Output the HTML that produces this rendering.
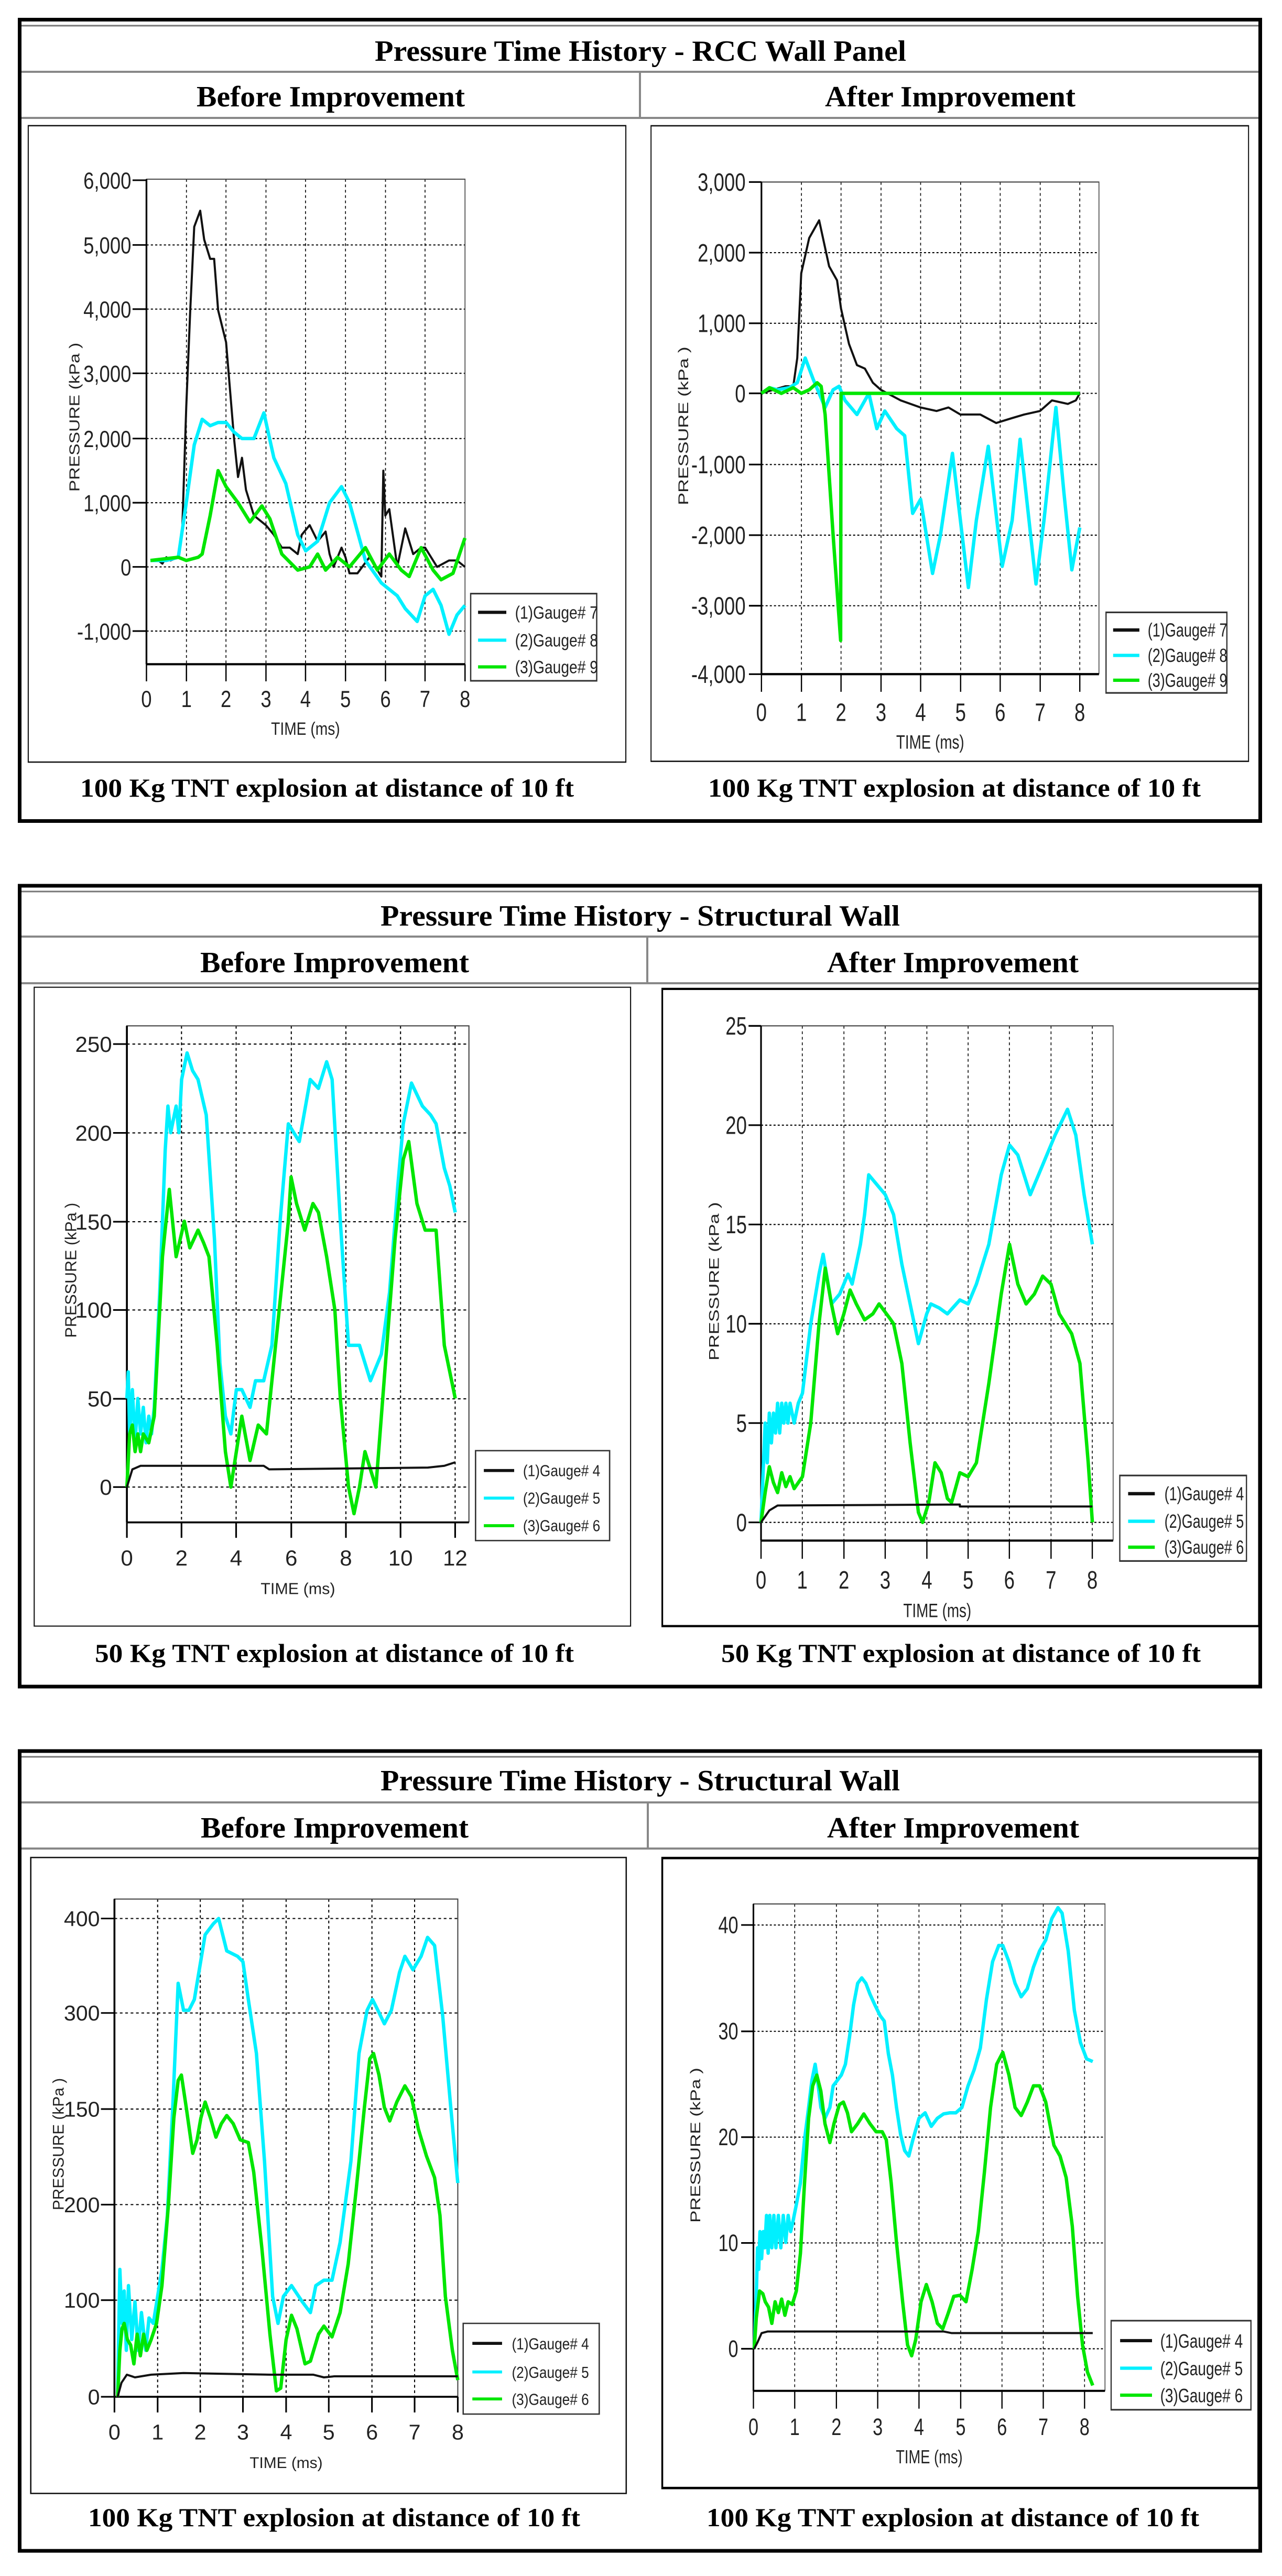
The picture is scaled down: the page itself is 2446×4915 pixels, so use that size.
<!DOCTYPE html>
<html><head><meta charset="utf-8"><style>
html,body{margin:0;padding:0;background:#fff;}
svg{display:block}
.t{font-family:"Liberation Serif",serif;font-weight:bold;fill:#000}
.a{font-family:"Liberation Sans",sans-serif;fill:#222}
.g{stroke:#000;stroke-width:2;stroke-dasharray:5 5;fill:none}
.k{fill:none;stroke:#111;stroke-width:4;vector-effect:non-scaling-stroke;stroke-linejoin:round}
.c{fill:none;stroke:#00F0FF;stroke-width:6.5;vector-effect:non-scaling-stroke;stroke-linejoin:round}
.n{fill:none;stroke:#00E600;stroke-width:6.5;vector-effect:non-scaling-stroke;stroke-linejoin:round}
</style></head><body>
<svg width="2446" height="4915" viewBox="0 0 2446 4915" xmlns="http://www.w3.org/2000/svg">
<rect width="2446" height="4915" fill="#fff"/>

<g fill="none">
<rect x="37.5" y="37.5" width="2367" height="1529" stroke="#000" stroke-width="7"/>
<line x1="41" y1="49" x2="2401" y2="49" stroke="#777" stroke-width="3"/>
<line x1="41" y1="137" x2="2401" y2="137" stroke="#888" stroke-width="4"/>
<line x1="41" y1="225" x2="2401" y2="225" stroke="#888" stroke-width="4"/>
<line x1="1221" y1="137" x2="1221" y2="225" stroke="#888" stroke-width="4"/>

<rect x="37.5" y="1690" width="2367" height="1528" stroke="#000" stroke-width="7"/>
<line x1="41" y1="1701" x2="2401" y2="1701" stroke="#777" stroke-width="3"/>
<line x1="41" y1="1787" x2="2401" y2="1787" stroke="#888" stroke-width="4"/>
<line x1="41" y1="1876" x2="2401" y2="1876" stroke="#888" stroke-width="4"/>
<line x1="1235" y1="1787" x2="1235" y2="1876" stroke="#888" stroke-width="4"/>

<rect x="37.5" y="3341" width="2367" height="1526" stroke="#000" stroke-width="7"/>
<line x1="41" y1="3352" x2="2401" y2="3352" stroke="#777" stroke-width="3"/>
<line x1="41" y1="3439" x2="2401" y2="3439" stroke="#888" stroke-width="4"/>
<line x1="41" y1="3527" x2="2401" y2="3527" stroke="#888" stroke-width="4"/>
<line x1="1236" y1="3439" x2="1236" y2="3527" stroke="#888" stroke-width="4"/>
</g>

<g class="t">
<text x="715" y="116" font-size="56" textLength="1014" lengthAdjust="spacingAndGlyphs">Pressure Time History - RCC Wall Panel</text>
<text x="375" y="203" font-size="56" textLength="512" lengthAdjust="spacingAndGlyphs">Before Improvement</text>
<text x="1574" y="203" font-size="56" textLength="478" lengthAdjust="spacingAndGlyphs">After Improvement</text>
<text x="153" y="1520" font-size="50" textLength="942" lengthAdjust="spacingAndGlyphs">100 Kg TNT explosion at distance of 10 ft</text>
<text x="1351" y="1520" font-size="50" textLength="940" lengthAdjust="spacingAndGlyphs">100 Kg TNT explosion at distance of 10 ft</text>

<text x="726" y="1766" font-size="56" textLength="991" lengthAdjust="spacingAndGlyphs">Pressure Time History - Structural Wall</text>
<text x="382" y="1855" font-size="56" textLength="513" lengthAdjust="spacingAndGlyphs">Before Improvement</text>
<text x="1578" y="1855" font-size="56" textLength="480" lengthAdjust="spacingAndGlyphs">After Improvement</text>
<text x="181" y="3171" font-size="50" textLength="914" lengthAdjust="spacingAndGlyphs">50 Kg TNT explosion at distance of 10 ft</text>
<text x="1376" y="3171" font-size="50" textLength="915" lengthAdjust="spacingAndGlyphs">50 Kg TNT explosion at distance of 10 ft</text>

<text x="726" y="3416" font-size="56" textLength="991" lengthAdjust="spacingAndGlyphs">Pressure Time History - Structural Wall</text>
<text x="383" y="3506" font-size="56" textLength="511" lengthAdjust="spacingAndGlyphs">Before Improvement</text>
<text x="1578" y="3506" font-size="56" textLength="481" lengthAdjust="spacingAndGlyphs">After Improvement</text>
<text x="168" y="4820" font-size="50" textLength="939" lengthAdjust="spacingAndGlyphs">100 Kg TNT explosion at distance of 10 ft</text>
<text x="1348" y="4820" font-size="50" textLength="940" lengthAdjust="spacingAndGlyphs">100 Kg TNT explosion at distance of 10 ft</text>
</g>

<!-- ===== CHART A ===== -->
<g transform="matrix(0.8292,0,0,1.0204,0,0)">
<rect x="65" y="235" width="1375" height="1190" fill="none" stroke="#111" stroke-width="2.5"/>
<g class="g">
<line x1="429" y1="335" x2="429" y2="1242"/><line x1="520" y1="335" x2="520" y2="1242"/><line x1="612" y1="335" x2="612" y2="1242"/><line x1="703" y1="335" x2="703" y2="1242"/><line x1="795" y1="335" x2="795" y2="1242"/><line x1="887" y1="335" x2="887" y2="1242"/><line x1="978" y1="335" x2="978" y2="1242"/>
<line x1="337" y1="458" x2="1070" y2="458"/><line x1="337" y1="578" x2="1070" y2="578"/><line x1="337" y1="698" x2="1070" y2="698"/><line x1="337" y1="820" x2="1070" y2="820"/><line x1="337" y1="940" x2="1070" y2="940"/><line x1="337" y1="1060" x2="1070" y2="1060"/><line x1="337" y1="1180" x2="1070" y2="1180"/>
</g>
<polyline points="337,1242 337,335 1070,335 1070,1242" fill="none" stroke="#444" stroke-width="2"/>
<line x1="337" y1="335" x2="337" y2="1242" stroke="#000" stroke-width="4"/>
<line x1="337" y1="1242" x2="1070" y2="1242" stroke="#000" stroke-width="4"/>
<g stroke="#000" stroke-width="3">
<line x1="305" y1="337" x2="337" y2="337"/><line x1="305" y1="458" x2="337" y2="458"/><line x1="305" y1="578" x2="337" y2="578"/><line x1="305" y1="698" x2="337" y2="698"/><line x1="305" y1="820" x2="337" y2="820"/><line x1="305" y1="940" x2="337" y2="940"/><line x1="305" y1="1060" x2="337" y2="1060"/><line x1="305" y1="1180" x2="337" y2="1180"/>
<line x1="337" y1="1242" x2="337" y2="1274"/><line x1="429" y1="1242" x2="429" y2="1274"/><line x1="520" y1="1242" x2="520" y2="1274"/><line x1="612" y1="1242" x2="612" y2="1274"/><line x1="703" y1="1242" x2="703" y2="1274"/><line x1="795" y1="1242" x2="795" y2="1274"/><line x1="887" y1="1242" x2="887" y2="1274"/><line x1="978" y1="1242" x2="978" y2="1274"/><line x1="1070" y1="1242" x2="1070" y2="1274"/>
</g>
<g class="a" font-size="44" text-anchor="end">
<text x="302" y="353">6,000</text><text x="302" y="474">5,000</text><text x="302" y="594">4,000</text><text x="302" y="714">3,000</text><text x="302" y="836">2,000</text><text x="302" y="956">1,000</text><text x="302" y="1076">0</text><text x="302" y="1196">-1,000</text>
</g>
<g class="a" font-size="44" text-anchor="middle">
<text x="337" y="1322">0</text><text x="429" y="1322">1</text><text x="520" y="1322">2</text><text x="612" y="1322">3</text><text x="703" y="1322">4</text><text x="795" y="1322">5</text><text x="887" y="1322">6</text><text x="978" y="1322">7</text><text x="1070" y="1322">8</text>
<text x="703" y="1374" font-size="34">TIME (ms)</text>
<text transform="translate(183,780) rotate(-90)" font-size="33">PRESSURE (kPa )</text>
</g>
<g transform="translate(337,1060) scale(91.6,-0.12)">
<polyline class="k" points="0.1,100 0.3,100 0.4,50 0.5,150 0.6,100 0.8,150 0.9,600 1.0,2500 1.1,4000 1.2,5300 1.35,5550 1.45,5100 1.6,4800 1.7,4800 1.8,4000 2.0,3500 2.2,2000 2.3,1400 2.4,1700 2.5,1200 2.7,800 3.0,650 3.2,500 3.4,300 3.6,300 3.8,200 3.9,500 4.1,650 4.3,400 4.5,550 4.6,200 4.7,0 4.9,300 5.0,150 5.1,-100 5.3,-100 5.6,150 5.9,-150 5.95,1500 6.0,800 6.1,900 6.3,0 6.5,600 6.7,200 6.9,300 7.0,300 7.3,0 7.6,100 7.8,100 8.0,0"/>
<polyline class="c" points="0.1,100 0.5,100 0.8,150 1.0,1000 1.2,1900 1.4,2300 1.6,2200 1.8,2250 2.0,2250 2.2,2100 2.4,2000 2.7,2000 2.95,2400 3.2,1700 3.5,1300 3.8,500 4.0,250 4.3,400 4.6,1000 4.9,1250 5.1,1000 5.5,100 5.9,-250 6.3,-450 6.5,-650 6.8,-850 7.0,-450 7.2,-350 7.4,-600 7.6,-1050 7.8,-750 8.0,-600"/>
<polyline class="n" points="0.1,100 0.8,150 1.0,100 1.3,150 1.4,200 1.6,800 1.8,1500 2.0,1250 2.3,1000 2.6,700 2.9,950 3.1,750 3.4,200 3.8,-50 4.1,0 4.3,200 4.5,-50 4.8,150 5.1,0 5.5,300 5.8,-50 6.1,200 6.4,-50 6.6,-150 6.9,300 7.2,-50 7.4,-200 7.7,-100 8.0,450"/>
</g>
<rect x="1083" y="1110" width="290" height="163" fill="#fff" stroke="#333" stroke-width="3"/>
<g stroke-width="6"><line x1="1100" y1="1145" x2="1165" y2="1145" stroke="#111"/><line x1="1100" y1="1197" x2="1165" y2="1197" stroke="#00F0FF"/><line x1="1100" y1="1247" x2="1165" y2="1247" stroke="#00E600"/></g>
<g class="a" font-size="34"><text x="1185" y="1157">(1)Gauge#  7</text><text x="1185" y="1209">(2)Gauge#  8</text><text x="1185" y="1259">(3)Gauge#  9</text></g>
</g>

<!-- ===== CHART B ===== -->
<g transform="matrix(0.795,0,0,1.0526,1200,0)">
<rect x="53" y="228" width="1434" height="1152" fill="none" stroke="#111" stroke-width="2.5"/>
<g class="g">
<line x1="414" y1="330" x2="414" y2="1222"/><line x1="509" y1="330" x2="509" y2="1222"/><line x1="605" y1="330" x2="605" y2="1222"/><line x1="700" y1="330" x2="700" y2="1222"/><line x1="796" y1="330" x2="796" y2="1222"/><line x1="891" y1="330" x2="891" y2="1222"/><line x1="987" y1="330" x2="987" y2="1222"/><line x1="1082" y1="330" x2="1082" y2="1222"/>
<line x1="318" y1="458" x2="1128" y2="458"/><line x1="318" y1="586" x2="1128" y2="586"/><line x1="318" y1="713" x2="1128" y2="713"/><line x1="318" y1="842" x2="1128" y2="842"/><line x1="318" y1="970" x2="1128" y2="970"/><line x1="318" y1="1098" x2="1128" y2="1098"/>
</g>
<polyline points="318,1222 318,330 1128,330 1128,1222" fill="none" stroke="#444" stroke-width="2"/>
<line x1="318" y1="330" x2="318" y2="1222" stroke="#000" stroke-width="4"/>
<line x1="318" y1="1222" x2="1128" y2="1222" stroke="#000" stroke-width="4"/>
<g stroke="#000" stroke-width="3">
<line x1="288" y1="330" x2="318" y2="330"/><line x1="288" y1="458" x2="318" y2="458"/><line x1="288" y1="586" x2="318" y2="586"/><line x1="288" y1="713" x2="318" y2="713"/><line x1="288" y1="842" x2="318" y2="842"/><line x1="288" y1="970" x2="318" y2="970"/><line x1="288" y1="1098" x2="318" y2="1098"/><line x1="288" y1="1222" x2="318" y2="1222"/>
<line x1="318" y1="1222" x2="318" y2="1254"/><line x1="414" y1="1222" x2="414" y2="1254"/><line x1="509" y1="1222" x2="509" y2="1254"/><line x1="605" y1="1222" x2="605" y2="1254"/><line x1="700" y1="1222" x2="700" y2="1254"/><line x1="796" y1="1222" x2="796" y2="1254"/><line x1="891" y1="1222" x2="891" y2="1254"/><line x1="987" y1="1222" x2="987" y2="1254"/><line x1="1082" y1="1222" x2="1082" y2="1254"/>
</g>
<g class="a" font-size="46" text-anchor="end">
<text x="280" y="346">3,000</text><text x="280" y="474">2,000</text><text x="280" y="602">1,000</text><text x="280" y="729">0</text><text x="280" y="858">-1,000</text><text x="280" y="986">-2,000</text><text x="280" y="1114">-3,000</text><text x="280" y="1238">-4,000</text>
</g>
<g class="a" font-size="46" text-anchor="middle">
<text x="318" y="1307">0</text><text x="414" y="1307">1</text><text x="509" y="1307">2</text><text x="605" y="1307">3</text><text x="700" y="1307">4</text><text x="796" y="1307">5</text><text x="891" y="1307">6</text><text x="987" y="1307">7</text><text x="1082" y="1307">8</text>
<text x="723" y="1357" font-size="35">TIME (ms)</text>
<text transform="translate(142,772) rotate(-90)" font-size="34">PRESSURE (kPa )</text>
</g>
<g transform="translate(318,713) scale(95.5,-0.128)">
<polyline class="k" points="0,0 0.3,50 0.6,100 0.8,100 0.9,500 1.0,1700 1.2,2200 1.45,2450 1.7,1800 1.9,1600 2.0,1200 2.2,700 2.4,400 2.6,350 2.8,150 3.0,50 3.5,-100 4.0,-200 4.4,-250 4.7,-200 5.0,-300 5.5,-300 5.9,-420 6.3,-350 6.6,-300 7.0,-250 7.3,-100 7.7,-150 7.9,-100 8.0,0"/>
<polyline class="c" points="0,0 0.2,80 0.4,50 0.7,80 0.9,150 1.1,500 1.3,200 1.6,-200 1.8,50 1.95,100 2.1,-100 2.4,-300 2.7,0 2.9,-500 3.1,-250 3.4,-500 3.6,-600 3.8,-1700 4.0,-1500 4.3,-2550 4.5,-2000 4.8,-850 5.2,-2750 5.4,-1800 5.7,-750 6.05,-2450 6.3,-1800 6.5,-650 6.9,-2700 7.1,-1800 7.4,-200 7.6,-1400 7.8,-2500 8.0,-1900"/>
<polyline class="n" points="0,0 0.2,80 0.5,0 0.8,80 1.0,0 1.2,50 1.4,150 1.5,100 1.6,-300 1.8,-2000 1.99,-3500 2.0,0 8.0,0"/>
</g>
<rect x="1145" y="1110" width="290" height="146" fill="#fff" stroke="#333" stroke-width="3"/>
<g stroke-width="6"><line x1="1162" y1="1142" x2="1225" y2="1142" stroke="#111"/><line x1="1162" y1="1188" x2="1225" y2="1188" stroke="#00F0FF"/><line x1="1162" y1="1233" x2="1225" y2="1233" stroke="#00E600"/></g>
<g class="a" font-size="34"><text x="1245" y="1154">(1)Gauge#  7</text><text x="1245" y="1200">(2)Gauge#  8</text><text x="1245" y="1245">(3)Gauge#  9</text></g>
</g>

<!-- ===== CHART C ===== -->
<g transform="matrix(1.0526,0,0,1.0526,0,1650)">
<rect x="62" y="222" width="1081" height="1158" fill="none" stroke="#111" stroke-width="2"/>
<g class="g">
<line x1="329" y1="292" x2="329" y2="1192"/><line x1="428" y1="292" x2="428" y2="1192"/><line x1="528" y1="292" x2="528" y2="1192"/><line x1="627" y1="292" x2="627" y2="1192"/><line x1="726" y1="292" x2="726" y2="1192"/><line x1="825" y1="292" x2="825" y2="1192"/>
<line x1="230" y1="1128" x2="850" y2="1128"/><line x1="230" y1="968" x2="850" y2="968"/><line x1="230" y1="807" x2="850" y2="807"/><line x1="230" y1="647" x2="850" y2="647"/><line x1="230" y1="486" x2="850" y2="486"/><line x1="230" y1="325" x2="850" y2="325"/>
</g>
<polyline points="230,1192 230,292 850,292 850,1192" fill="none" stroke="#444" stroke-width="2"/>
<line x1="230" y1="292" x2="230" y2="1192" stroke="#000" stroke-width="3.5"/>
<line x1="230" y1="1192" x2="850" y2="1192" stroke="#000" stroke-width="3.5"/>
<g stroke="#000" stroke-width="3">
<line x1="205" y1="1128" x2="230" y2="1128"/><line x1="205" y1="968" x2="230" y2="968"/><line x1="205" y1="807" x2="230" y2="807"/><line x1="205" y1="647" x2="230" y2="647"/><line x1="205" y1="486" x2="230" y2="486"/><line x1="205" y1="325" x2="230" y2="325"/>
<line x1="230" y1="1192" x2="230" y2="1220"/><line x1="329" y1="1192" x2="329" y2="1220"/><line x1="428" y1="1192" x2="428" y2="1220"/><line x1="528" y1="1192" x2="528" y2="1220"/><line x1="627" y1="1192" x2="627" y2="1220"/><line x1="726" y1="1192" x2="726" y2="1220"/><line x1="825" y1="1192" x2="825" y2="1220"/>
</g>
<g class="a" font-size="40" text-anchor="end">
<text x="203" y="1142">0</text><text x="203" y="982">50</text><text x="203" y="821">100</text><text x="203" y="661">150</text><text x="203" y="500">200</text><text x="203" y="339">250</text>
</g>
<g class="a" font-size="40" text-anchor="middle">
<text x="230" y="1270">0</text><text x="329" y="1270">2</text><text x="428" y="1270">4</text><text x="528" y="1270">6</text><text x="627" y="1270">8</text><text x="726" y="1270">10</text><text x="825" y="1270">12</text>
<text x="540" y="1322" font-size="29">TIME (ms)</text>
<text transform="translate(138,735) rotate(-90)" font-size="29">PRESSURE (kPa )</text>
</g>
<g transform="translate(230,1128) scale(49.6,-3.212)">
<polyline class="c" points="0,50 0.05,65 0.1,30 0.2,55 0.3,25 0.4,50 0.5,30 0.6,45 0.7,25 0.8,40 0.9,30 1.0,45 1.2,110 1.4,190 1.5,215 1.6,200 1.8,215 1.9,200 2.0,230 2.2,245 2.4,235 2.6,230 2.9,210 3.2,140 3.4,70 3.6,40 3.8,30 4.0,55 4.2,55 4.5,45 4.7,60 5.0,60 5.3,80 5.6,150 5.9,205 6.3,195 6.7,230 7.0,225 7.3,240 7.5,230 7.8,150 8.1,80 8.5,80 8.9,60 9.3,75 9.6,110 9.9,170 10.1,205 10.4,228 10.8,215 11.1,210 11.3,205 11.6,180 11.8,170 12.0,155"/>
<polyline class="n" points="0,0 0.1,30 0.2,35 0.3,20 0.4,30 0.5,20 0.6,30 0.8,25 1.0,40 1.3,130 1.55,168 1.8,130 2.1,150 2.3,135 2.6,145 2.8,138 3.0,130 3.3,80 3.6,20 3.8,0 4.0,20 4.2,40 4.5,15 4.8,35 5.1,30 5.5,90 5.9,150 6.0,175 6.2,160 6.5,145 6.8,160 7.0,155 7.3,130 7.6,100 7.8,50 8.1,0 8.3,-15 8.5,0 8.7,20 8.9,10 9.1,0 9.5,80 9.8,140 10.1,185 10.3,195 10.6,160 10.9,145 11.3,145 11.6,80 11.8,65 12.0,50"/>
<polyline class="k" points="0,0 0.2,10 0.5,12 5.0,12 5.2,10 11.0,11 11.6,12 12.0,14"/>
</g>
<rect x="862" y="1062" width="243" height="163" fill="#fff" stroke="#333" stroke-width="2.5"/>
<g stroke-width="5.5"><line x1="877" y1="1098" x2="932" y2="1098" stroke="#111"/><line x1="877" y1="1148" x2="932" y2="1148" stroke="#00F0FF"/><line x1="877" y1="1198" x2="932" y2="1198" stroke="#00E600"/></g>
<g class="a" font-size="29"><text x="948" y="1108" textLength="140" lengthAdjust="spacingAndGlyphs">(1)Gauge#  4</text><text x="948" y="1158" textLength="140" lengthAdjust="spacingAndGlyphs">(2)Gauge#  5</text><text x="948" y="1208" textLength="140" lengthAdjust="spacingAndGlyphs">(3)Gauge#  6</text></g>
</g>

<!-- ===== CHART D ===== -->
<g transform="matrix(0.795,0,0,1.0526,1200,1650)">
<rect x="80" y="225" width="1432" height="1155" fill="none" stroke="#000" stroke-width="4"/>
<g class="g">
<line x1="416" y1="292" x2="416" y2="1225"/><line x1="516" y1="292" x2="516" y2="1225"/><line x1="615" y1="292" x2="615" y2="1225"/><line x1="715" y1="292" x2="715" y2="1225"/><line x1="814" y1="292" x2="814" y2="1225"/><line x1="913" y1="292" x2="913" y2="1225"/><line x1="1013" y1="292" x2="1013" y2="1225"/><line x1="1112" y1="292" x2="1112" y2="1225"/>
<line x1="317" y1="1192" x2="1162" y2="1192"/><line x1="317" y1="1012" x2="1162" y2="1012"/><line x1="317" y1="832" x2="1162" y2="832"/><line x1="317" y1="652" x2="1162" y2="652"/><line x1="317" y1="472" x2="1162" y2="472"/>
</g>
<polyline points="317,1225 317,292 1162,292 1162,1225" fill="none" stroke="#444" stroke-width="2"/>
<line x1="317" y1="292" x2="317" y2="1225" stroke="#000" stroke-width="4"/>
<line x1="317" y1="1225" x2="1162" y2="1225" stroke="#000" stroke-width="4"/>
<g stroke="#000" stroke-width="3">
<line x1="287" y1="1192" x2="317" y2="1192"/><line x1="287" y1="1012" x2="317" y2="1012"/><line x1="287" y1="832" x2="317" y2="832"/><line x1="287" y1="652" x2="317" y2="652"/><line x1="287" y1="472" x2="317" y2="472"/><line x1="287" y1="292" x2="317" y2="292"/>
<line x1="317" y1="1225" x2="317" y2="1258"/><line x1="416" y1="1225" x2="416" y2="1258"/><line x1="516" y1="1225" x2="516" y2="1258"/><line x1="615" y1="1225" x2="615" y2="1258"/><line x1="715" y1="1225" x2="715" y2="1258"/><line x1="814" y1="1225" x2="814" y2="1258"/><line x1="913" y1="1225" x2="913" y2="1258"/><line x1="1013" y1="1225" x2="1013" y2="1258"/><line x1="1112" y1="1225" x2="1112" y2="1258"/>
</g>
<g class="a" font-size="46" text-anchor="end">
<text x="283" y="1208">0</text><text x="283" y="1028">5</text><text x="283" y="848">10</text><text x="283" y="668">15</text><text x="283" y="488">20</text><text x="283" y="308">25</text>
</g>
<g class="a" font-size="46" text-anchor="middle">
<text x="317" y="1312">0</text><text x="416" y="1312">1</text><text x="516" y="1312">2</text><text x="615" y="1312">3</text><text x="715" y="1312">4</text><text x="814" y="1312">5</text><text x="913" y="1312">6</text><text x="1013" y="1312">7</text><text x="1112" y="1312">8</text>
<text x="740" y="1364" font-size="35">TIME (ms)</text>
<text transform="translate(216,755) rotate(-90)" font-size="34">PRESSURE (kPa )</text>
</g>
<g transform="translate(317,1192) scale(99.4,-36)">
<polyline class="c" points="0,0 0.1,5 0.15,3 0.2,5.5 0.25,4 0.3,5.5 0.35,4.5 0.4,6 0.45,4.5 0.5,6 0.55,5 0.6,6 0.65,5 0.7,6 0.8,5 0.9,6 1.0,6.5 1.2,10 1.4,12.5 1.5,13.5 1.7,11 1.9,11.5 2.1,12.5 2.2,12 2.4,14 2.5,15.5 2.6,17.5 2.8,17 3.0,16.5 3.2,15.5 3.4,13 3.6,11 3.8,9 4.0,10.5 4.1,11 4.3,10.8 4.5,10.5 4.8,11.2 5.0,11 5.2,12 5.5,14 5.8,17.5 6.0,19 6.2,18.5 6.5,16.5 6.8,18 7.1,19.5 7.4,20.8 7.6,19.5 7.8,16.5 8.0,14"/>
<polyline class="n" points="0,0 0.1,1.5 0.2,2.8 0.3,2 0.4,1.5 0.5,2.5 0.6,1.8 0.7,2.3 0.8,1.7 1.0,2.3 1.2,5 1.4,10 1.55,12.8 1.7,11 1.85,9.5 2.0,10.5 2.15,11.7 2.3,11 2.5,10.2 2.7,10.5 2.85,11 3.1,10.3 3.2,10 3.4,8 3.6,4 3.8,0.5 3.9,0 4.05,1 4.2,3 4.35,2.5 4.5,1.2 4.6,1 4.8,2.5 5.0,2.3 5.2,3 5.5,7 5.8,11.5 6.0,14 6.2,12 6.4,11 6.6,11.5 6.8,12.4 7.0,12 7.2,10.5 7.5,9.5 7.7,8 7.9,3 8.0,0"/>
<polyline class="k" points="0,0 0.2,0.6 0.4,0.85 4.8,0.9 4.8,0.8 8,0.8"/>
</g>
<rect x="1178" y="1107" width="304" height="155" fill="#fff" stroke="#333" stroke-width="3"/>
<g stroke-width="6"><line x1="1198" y1="1140" x2="1262" y2="1140" stroke="#111"/><line x1="1198" y1="1190" x2="1262" y2="1190" stroke="#00F0FF"/><line x1="1198" y1="1237" x2="1262" y2="1237" stroke="#00E600"/></g>
<g class="a" font-size="34"><text x="1285" y="1152">(1)Gauge#  4</text><text x="1285" y="1202">(2)Gauge#  5</text><text x="1285" y="1249">(3)Gauge#  6</text></g>
</g>

<!-- ===== CHART E ===== -->
<g transform="matrix(1.03,0,0,1.03,0,3300)">
<rect x="57" y="237" width="1103" height="1178" fill="none" stroke="#111" stroke-width="2.5"/>
<g class="g">
<line x1="292" y1="314" x2="292" y2="1236"/><line x1="371" y1="314" x2="371" y2="1236"/><line x1="450" y1="314" x2="450" y2="1236"/><line x1="530" y1="314" x2="530" y2="1236"/><line x1="609" y1="314" x2="609" y2="1236"/><line x1="689" y1="314" x2="689" y2="1236"/><line x1="768" y1="314" x2="768" y2="1236"/>
<line x1="212" y1="350" x2="848" y2="350"/><line x1="212" y1="525" x2="848" y2="525"/><line x1="212" y1="703" x2="848" y2="703"/><line x1="212" y1="880" x2="848" y2="880"/><line x1="212" y1="1057" x2="848" y2="1057"/>
</g>
<polyline points="212,1236 212,314 848,314 848,1236" fill="none" stroke="#444" stroke-width="2"/>
<line x1="212" y1="314" x2="212" y2="1236" stroke="#000" stroke-width="3.5"/>
<line x1="212" y1="1236" x2="848" y2="1236" stroke="#000" stroke-width="3.5"/>
<g stroke="#000" stroke-width="3">
<line x1="187" y1="350" x2="212" y2="350"/><line x1="187" y1="525" x2="212" y2="525"/><line x1="187" y1="703" x2="212" y2="703"/><line x1="187" y1="880" x2="212" y2="880"/><line x1="187" y1="1057" x2="212" y2="1057"/><line x1="187" y1="1236" x2="212" y2="1236"/>
<line x1="212" y1="1236" x2="212" y2="1265"/><line x1="292" y1="1236" x2="292" y2="1265"/><line x1="371" y1="1236" x2="371" y2="1265"/><line x1="450" y1="1236" x2="450" y2="1265"/><line x1="530" y1="1236" x2="530" y2="1265"/><line x1="609" y1="1236" x2="609" y2="1265"/><line x1="689" y1="1236" x2="689" y2="1265"/><line x1="768" y1="1236" x2="768" y2="1265"/><line x1="848" y1="1236" x2="848" y2="1265"/>
</g>
<g class="a" font-size="40" text-anchor="end">
<text x="185" y="364">400</text><text x="185" y="539">300</text><text x="185" y="717">150</text><text x="185" y="894">200</text><text x="185" y="1071">100</text><text x="185" y="1250">0</text>
</g>
<g class="a" font-size="40" text-anchor="middle">
<text x="212" y="1315">0</text><text x="292" y="1315">1</text><text x="371" y="1315">2</text><text x="450" y="1315">3</text><text x="530" y="1315">4</text><text x="609" y="1315">5</text><text x="689" y="1315">6</text><text x="768" y="1315">7</text><text x="848" y="1315">8</text>
<text x="530" y="1368" font-size="29">TIME (ms)</text>
<text transform="translate(118,768) rotate(-90)" font-size="29">PRESSURE (kPa )</text>
</g>
<polyline class="c" points="218,1230 222,1000 226,1100 230,1040 234,1150 238,1030 244,1130 250,1060 256,1150 262,1080 270,1150 276,1090 284,1100 292,1050 300,1000 310,900 320,700 330,470 340,520 350,520 360,500 370,440 380,380 395,360 405,350 420,410 440,420 450,430 460,500 475,600 490,800 505,1050 515,1100 525,1050 540,1030 560,1060 575,1080 585,1030 600,1020 615,1020 630,950 650,800 665,600 680,520 690,500 700,520 712,545 725,520 740,450 750,420 765,445 780,420 792,385 805,400 820,530 835,700 848,840"/>
<polyline class="n" points="218,1236 222,1150 226,1110 230,1100 236,1130 242,1140 248,1175 254,1120 260,1160 266,1120 272,1150 280,1130 290,1100 300,1030 312,880 322,720 330,650 336,640 345,700 357,785 365,760 372,720 380,690 390,720 400,755 410,730 420,715 432,730 445,760 460,765 470,820 485,960 500,1120 512,1225 520,1220 530,1130 540,1085 550,1110 565,1175 575,1170 590,1120 600,1105 615,1125 630,1080 645,990 660,850 675,700 685,610 692,600 702,640 712,700 722,725 735,690 750,660 762,680 775,740 790,790 805,830 815,900 825,1050 838,1150 848,1205"/>
<polyline class="k" points="218,1236 225,1210 235,1195 250,1200 280,1195 340,1192 500,1195 580,1195 600,1200 620,1198 848,1198"/>
<rect x="858" y="1100" width="252" height="168" fill="#fff" stroke="#333" stroke-width="2.5"/>
<g stroke-width="5.5"><line x1="875" y1="1137" x2="930" y2="1137" stroke="#111"/><line x1="875" y1="1190" x2="930" y2="1190" stroke="#00F0FF"/><line x1="875" y1="1240" x2="930" y2="1240" stroke="#00E600"/></g>
<g class="a" font-size="30"><text x="948" y="1148" textLength="143" lengthAdjust="spacingAndGlyphs">(1)Gauge#  4</text><text x="948" y="1201" textLength="143" lengthAdjust="spacingAndGlyphs">(2)Gauge#  5</text><text x="948" y="1251" textLength="143" lengthAdjust="spacingAndGlyphs">(3)Gauge#  6</text></g>
</g>

<!-- ===== CHART F ===== -->
<g transform="matrix(0.78,0,0,1.03,1223,3300)">
<rect x="52" y="238" width="1458" height="1167" fill="none" stroke="#000" stroke-width="4.5"/>
<g class="g">
<line x1="376" y1="323" x2="376" y2="1225"/><line x1="478" y1="323" x2="478" y2="1225"/><line x1="579" y1="323" x2="579" y2="1225"/><line x1="680" y1="323" x2="680" y2="1225"/><line x1="782" y1="323" x2="782" y2="1225"/><line x1="883" y1="323" x2="883" y2="1225"/><line x1="984" y1="323" x2="984" y2="1225"/><line x1="1085" y1="323" x2="1085" y2="1225"/>
<line x1="275" y1="1147" x2="1135" y2="1147"/><line x1="275" y1="951" x2="1135" y2="951"/><line x1="275" y1="755" x2="1135" y2="755"/><line x1="275" y1="559" x2="1135" y2="559"/><line x1="275" y1="362" x2="1135" y2="362"/>
</g>
<polyline points="275,1225 275,323 1135,323 1135,1225" fill="none" stroke="#444" stroke-width="2"/>
<line x1="275" y1="323" x2="275" y2="1225" stroke="#000" stroke-width="4"/>
<line x1="275" y1="1225" x2="1135" y2="1225" stroke="#000" stroke-width="4"/>
<g stroke="#000" stroke-width="3">
<line x1="245" y1="1147" x2="275" y2="1147"/><line x1="245" y1="951" x2="275" y2="951"/><line x1="245" y1="755" x2="275" y2="755"/><line x1="245" y1="559" x2="275" y2="559"/><line x1="245" y1="362" x2="275" y2="362"/>
<line x1="275" y1="1225" x2="275" y2="1258"/><line x1="376" y1="1225" x2="376" y2="1258"/><line x1="478" y1="1225" x2="478" y2="1258"/><line x1="579" y1="1225" x2="579" y2="1258"/><line x1="680" y1="1225" x2="680" y2="1258"/><line x1="782" y1="1225" x2="782" y2="1258"/><line x1="883" y1="1225" x2="883" y2="1258"/><line x1="984" y1="1225" x2="984" y2="1258"/><line x1="1085" y1="1225" x2="1085" y2="1258"/>
</g>
<g class="a" font-size="44" text-anchor="end">
<text x="238" y="1162">0</text><text x="238" y="966">10</text><text x="238" y="770">20</text><text x="238" y="574">30</text><text x="238" y="377">40</text>
</g>
<g class="a" font-size="44" text-anchor="middle">
<text x="275" y="1307">0</text><text x="376" y="1307">1</text><text x="478" y="1307">2</text><text x="579" y="1307">3</text><text x="680" y="1307">4</text><text x="782" y="1307">5</text><text x="883" y="1307">6</text><text x="984" y="1307">7</text><text x="1085" y="1307">8</text>
<text x="705" y="1359" font-size="35">TIME (ms)</text>
<text transform="translate(145,770) rotate(-90)" font-size="34">PRESSURE (kPa )</text>
</g>
<polyline class="c" points="277,1147 282,1050 285,960 288,1000 291,930 295,980 299,930 303,960 307,900 311,970 315,900 320,960 325,900 330,960 336,900 342,960 348,900 354,950 360,900 366,930 372,910 380,880 390,840 400,760 410,700 418,650 426,620 432,650 440,700 450,720 462,700 470,660 480,650 490,640 500,620 510,570 520,510 530,470 540,460 550,470 560,490 572,510 585,530 595,540 605,600 615,640 625,700 635,750 645,780 655,790 665,760 680,720 695,710 710,735 725,720 740,712 755,710 770,710 785,700 800,660 815,630 830,590 845,500 860,430 875,400 885,400 900,430 915,470 930,495 945,480 960,440 975,410 990,390 1005,350 1020,330 1030,340 1045,410 1060,520 1075,580 1090,610 1105,615"/>
<polyline class="n" points="277,1147 282,1090 290,1040 298,1045 304,1060 312,1070 320,1100 328,1060 336,1080 344,1055 352,1085 360,1060 370,1065 380,1040 390,970 400,840 410,720 420,660 430,640 440,670 450,730 462,765 472,730 485,695 495,690 505,710 515,745 530,730 545,712 560,730 575,745 590,745 600,760 612,840 625,950 640,1060 652,1140 662,1160 672,1130 685,1060 698,1028 712,1060 725,1100 738,1110 752,1080 765,1050 780,1048 795,1060 810,1000 825,930 840,820 855,700 870,620 885,598 900,640 915,700 930,715 945,690 960,660 975,660 990,690 1000,730 1010,770 1025,790 1040,830 1055,920 1068,1050 1080,1140 1092,1190 1105,1215"/>
<polyline class="k" points="277,1147 285,1135 295,1118 310,1115 360,1115 740,1115 760,1118 800,1118 1105,1118"/>
<rect x="1150" y="1095" width="342" height="165" fill="#fff" stroke="#333" stroke-width="3"/>
<g stroke-width="6"><line x1="1172" y1="1132" x2="1250" y2="1132" stroke="#111"/><line x1="1172" y1="1183" x2="1250" y2="1183" stroke="#00F0FF"/><line x1="1172" y1="1233" x2="1250" y2="1233" stroke="#00E600"/></g>
<g class="a" font-size="36"><text x="1270" y="1145">(1)Gauge#  4</text><text x="1270" y="1196">(2)Gauge#  5</text><text x="1270" y="1246">(3)Gauge#  6</text></g>
</g>
</svg>
</body></html>
